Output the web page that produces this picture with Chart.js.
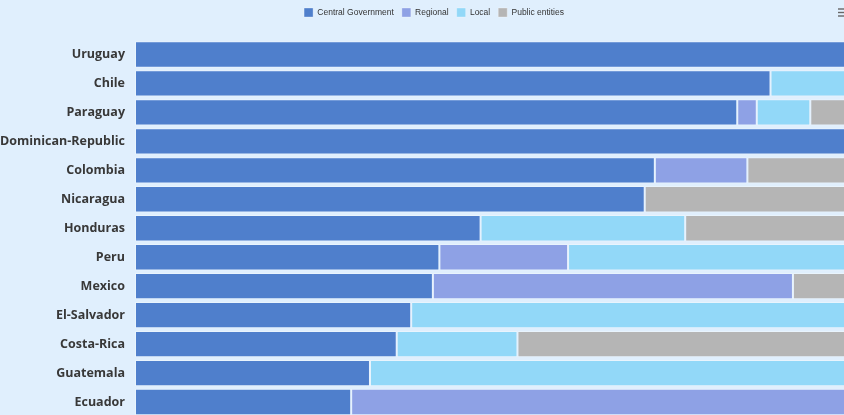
<!DOCTYPE html>
<html lang="en">
<head>
    <meta charset="UTF-8">
    <meta name="viewport" content="width=device-width, initial-scale=1.0">
    <title>Government levels</title>
    <script src="https://cdn.jsdelivr.net/npm/chart.js"></script>
    <style>
      html, body { margin: 0; padding: 0; overflow: hidden; background: #e0effd; }
      #wrap { width: 868px; height: 434px; }
    </style>
</head>
<body>
  <div id="wrap">
    <canvas id="govChart" width="868" height="434"></canvas>
  </div>
  <script>
    const countries = ['Uruguay', 'Chile', 'Paraguay', 'Dominican-Republic', 'Colombia', 'Nicaragua', 'Honduras', 'Peru', 'Mexico', 'El-Salvador', 'Costa-Rica', 'Guatemala', 'Ecuador'];
    const central = [100, 87.9, 83.3, 100, 71.9, 70.5, 47.8, 42.1, 41.2, 38.2, 36.2, 32.5, 29.9];
    const regional = [null, null, 2.7, null, 12.8, null, null, 17.8, 49.8, null, null, null, 70.1];
    const local = [null, 12.1, 7.4, null, null, null, 28.3, 40.1, null, 61.8, 16.7, 67.5, null];
    const publicEntities = [null, null, 6.6, null, 15.3, 29.5, 23.9, null, 9.0, null, 47.1, null, null];

    // legend needs more room below it, and sits centred on the whole canvas
    const legendSpace = {
      id: 'legendSpace',
      beforeInit(chart) {
        const fit = chart.legend.fit;
        chart.legend.fit = function () {
          fit.call(this);
          this.height = 40;
        };
      },
      afterLayout(chart) {
        chart.legend.left += 5;
        chart.legend.right += 5;
      }
    };

    // little menu icon top right
    const menuIcon = {
      id: 'menuIcon',
      afterDraw(chart) {
        const c = chart.ctx;
        c.save();
        c.strokeStyle = '#666';
        c.lineWidth = 1.4;
        [9, 12.5, 16].forEach(y => {
          c.beginPath();
          c.moveTo(838, y);
          c.lineTo(852, y);
          c.stroke();
        });
        c.restore();
      }
    };

    function set(label, data, color) {
      return {
        label: label,
        data: data,
        backgroundColor: color,
        borderColor: 'rgba(255,255,255,0.3)',
        borderWidth: 1,
        borderSkipped: false,
        barPercentage: 0.91,
        categoryPercentage: 1
      };
    }

    const ctx = document.getElementById('govChart').getContext('2d');
    const govChart = new Chart(ctx, {
      type: 'bar',
      data: {
        labels: countries,
        datasets: [
          set('Central Government', central, '#4f7fcc'),
          set('Regional', regional, '#8ea1e5'),
          set('Local', local, '#92d8f8'),
          set('Public entities', publicEntities, '#b5b5b5')
        ]
      },
      options: {
        indexAxis: 'y',
        responsive: false,
        animation: false,
        devicePixelRatio: 1,
        layout: { padding: { left: 0, right: 10, top: 0, bottom: 0 } },
        plugins: {
          legend: {
            display: true,
            position: 'top',
            labels: {
              boxWidth: 9,
              boxHeight: 9,
              padding: 8,
              color: '#333',
              font: { family: 'Liberation Sans', size: 8.5 }
            }
          },
          tooltip: { enabled: false }
        },
        scales: {
          x: {
            stacked: true,
            min: 0,
            max: 100,
            display: false
          },
          y: {
            stacked: true,
            grid: { display: false, drawTicks: false },
            border: { display: false },
            ticks: {
              padding: 10,
              color: '#383838',
              font: { family: 'Open Sans', size: 12.5, weight: 'bold' }
            },
            afterFit: scale => { scale.width = 135; }
          }
        }
      },
      plugins: [legendSpace, menuIcon]
    });
  </script>
</body>
</html>
